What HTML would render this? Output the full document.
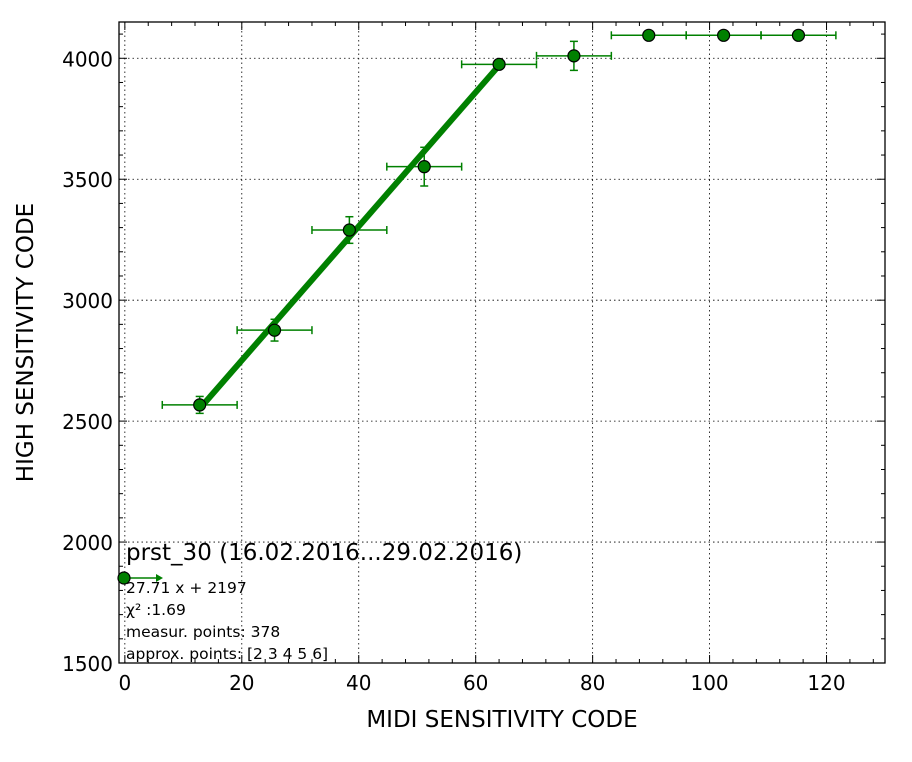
<!DOCTYPE html>
<html><head><meta charset="utf-8"><style>
html,body{margin:0;padding:0;background:#fff;}
svg{display:block;font-family:"DejaVu Sans","Liberation Sans",sans-serif;}
</style></head><body>
<svg id="chart" width="912" height="762" viewBox="0 0 912 762"></svg>
<script>
const xVals=[12.8,25.6,38.4,51.2,64,76.8,89.6,102.4,115.2];
const yVals=[2567,2876,3290,3552,3975,4010,4095,4095,4095];
const xErr=[6.4,6.4,6.4,6.4,6.4,6.4,6.4,6.4,6.4];
const yErr=[35,45,55,80,5,60,0,0,0];
const fitSlope=27.71, fitIntercept=2197;
const fitRange=[12.8,64];
const xTicks=[0,20,40,60,80,100,120];
const yTicks=[1500,2000,2500,3000,3500,4000];
const legendLines=["27.71 x + 2197","χ² :1.69","measur. points: 378","approx. points: [2 3 4 5 6]"];

const L=119,R=885,T=22,B=663,XMIN=-1,XMAX=130,YMIN=1500,YMAX=4150;
const sx=v=>L+(v-XMIN)/(XMAX-XMIN)*(R-L);
const sy=v=>B-(v-YMIN)/(YMAX-YMIN)*(B-T);
const svg=document.getElementById('chart');
const NS='http://www.w3.org/2000/svg';
function mk(tag,attrs,parent){const e=document.createElementNS(NS,tag);for(const k in attrs)e.setAttribute(k,attrs[k]);(parent||svg).appendChild(e);return e;}
const G='#008000';
xTicks.forEach(t=>{const l=mk('line',{x1:sx(t),x2:sx(t),y1:T,y2:B,stroke:'#000','stroke-width':0.8,'stroke-dasharray':'1.5,3'});
});
yTicks.forEach(t=>{const l=mk('line',{x1:L,x2:R,y1:sy(t),y2:sy(t),stroke:'#000','stroke-width':0.8,'stroke-dasharray':'1.5,3'});
});
for(let v=0;v<=128;v+=4){const big=v%20===0,len=big?8:4;
mk('line',{x1:sx(v),x2:sx(v),y1:B,y2:B-len,stroke:'#000'});mk('line',{x1:sx(v),x2:sx(v),y1:T,y2:T+len,stroke:'#000'});}
for(let v=1500;v<=4100;v+=100){const big=v%500===0,len=big?8:4;
mk('line',{x1:L,x2:L+len,y1:sy(v),y2:sy(v),stroke:'#000'});mk('line',{x1:R,x2:R-len,y1:sy(v),y2:sy(v),stroke:'#000'});}
xTicks.forEach(t=>{const e=mk('text',{x:sx(t),y:B+27,'text-anchor':'middle','font-size':20});e.textContent=t;
});
yTicks.forEach(t=>{const e=mk('text',{x:L-6,y:sy(t)+8,'text-anchor':'end','font-size':20});e.textContent=t;
});
let xt=mk('text',{x:502,y:727,'text-anchor':'middle','font-size':23});xt.textContent='MIDI SENSITIVITY CODE';

let yt=mk('text',{x:0,y:0,'text-anchor':'middle','font-size':23,transform:`translate(33,${(T+B)/2}) rotate(-90)`});yt.textContent='HIGH SENSITIVITY CODE';

const defs=mk('defs',{});const cp=mk('clipPath',{id:'cp'},defs);mk('rect',{x:L,y:T,width:R-L,height:B-T},cp);
const g=mk('g',{'clip-path':'url(#cp)'});
xVals.forEach((x,i)=>{const y=yVals[i];
const eb=mk('g',{stroke:G,'stroke-width':1.5},g);

mk('line',{x1:sx(x-xErr[i]),x2:sx(x+xErr[i]),y1:sy(y),y2:sy(y)},eb);
mk('line',{x1:sx(x-xErr[i]),x2:sx(x-xErr[i]),y1:sy(y)-4,y2:sy(y)+4},eb);
mk('line',{x1:sx(x+xErr[i]),x2:sx(x+xErr[i]),y1:sy(y)-4,y2:sy(y)+4},eb);
if(yErr[i]>0){mk('line',{x1:sx(x),x2:sx(x),y1:sy(y-yErr[i]),y2:sy(y+yErr[i])},eb);
mk('line',{x1:sx(x)-4,x2:sx(x)+4,y1:sy(y-yErr[i]),y2:sy(y-yErr[i])},eb);
mk('line',{x1:sx(x)-4,x2:sx(x)+4,y1:sy(y+yErr[i]),y2:sy(y+yErr[i])},eb);}
});
const fl=mk('line',{x1:sx(fitRange[0]),y1:sy(fitSlope*fitRange[0]+fitIntercept),x2:sx(fitRange[1]),y2:sy(fitSlope*fitRange[1]+fitIntercept),stroke:G,'stroke-width':6},g);

xVals.forEach((x,i)=>{const c=mk('circle',{cx:sx(x),cy:sy(yVals[i]),r:6,fill:G,stroke:'#000','stroke-width':1.2},g);
});
const fr=mk('rect',{x:L,y:T,width:R-L,height:B-T,fill:'none',stroke:'#000','stroke-width':1.3});

const lg=mk('g',{});
mk('line',{x1:125,x2:158,y1:578,y2:578,stroke:G,'stroke-width':1.5},lg);
mk('path',{d:'M156,574 L163,578 L156,582 Z',fill:G},lg);
mk('circle',{cx:124,cy:578,r:6,fill:G,stroke:'#000','stroke-width':1.2},lg);
let tt=mk('text',{x:126,y:560,'font-size':23},lg);tt.textContent='prst_30 (16.02.2016...29.02.2016)';

legendLines.forEach((s,i)=>{const e=mk('text',{x:126,y:593+i*22,'font-size':15.5},lg);e.textContent=s;
});
</script>
</body></html>
